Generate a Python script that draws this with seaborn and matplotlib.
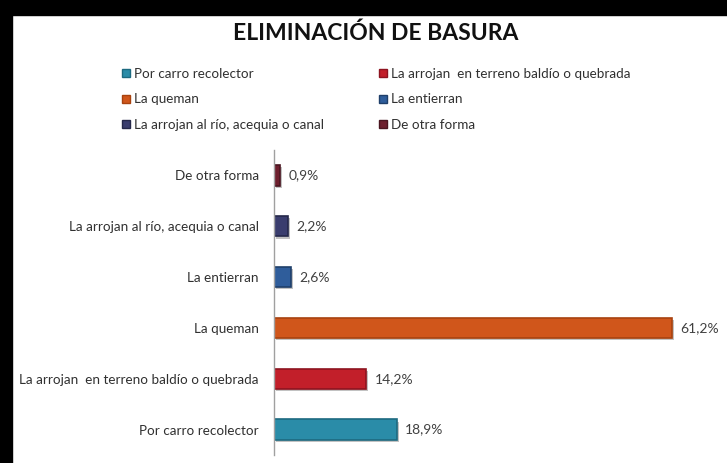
import matplotlib
matplotlib.use("Agg")
import matplotlib.pyplot as plt
import matplotlib.patheffects as pe
from matplotlib.patches import Rectangle
from matplotlib.lines import Line2D
import seaborn as sns
import pandas as pd

categories = ["De otra forma", "La arrojan al río, acequia o canal", "La entierran",
              "La queman", "La arrojan  en terreno baldío o quebrada", "Por carro recolector"]
values = [0.9, 2.2, 2.6, 61.2, 14.2, 18.9]
labels = ["0,9%", "2,2%", "2,6%", "61,2%", "14,2%", "18,9%"]
colors = ["#6E1F2E", "#3A3D6E", "#2F5D9B", "#D0561B", "#C21F2A", "#2A8CA8"]
edge_colors = ["#4A1520", "#25284A", "#1F3F6A", "#A8420F", "#8E1420", "#1D6A80"]
legend_order = [5, 3, 1, 4, 2, 0]

sns.set_theme(style="white")
plt.rcParams["font.family"] = ["Lato", "DejaVu Sans"]

df = pd.DataFrame({"cat": categories, "val": values})

fig = plt.figure(figsize=(7.27, 4.63), dpi=100)
ax = fig.add_axes([274 / 727, 8 / 463, 426 / 727, 305 / 463])

sns.barplot(data=df, y="cat", x="val", hue="cat", palette=colors, order=categories,
            hue_order=categories, width=0.4, legend=False, ax=ax, orient="h",
            saturation=1)

for p, ec in zip(ax.patches, edge_colors):
    p.set_edgecolor(ec)
    p.set_linewidth(1.2)
    p.set_path_effects([pe.SimplePatchShadow(offset=(1.5, -1.5), shadow_rgbFace="#9a9a9a", alpha=0.6),
                        pe.Normal()])

for i, (v, lab) in enumerate(zip(values, labels)):
    ax.text(v + 1.3, i, lab, va="center", ha="left", fontsize=10, color="#404040")

ax.set_xlim(0, 426 / 6.5)
ax.set_ylim(5.5, -0.5)
ax.set_xlabel("")
ax.set_ylabel("")
ax.set_xticks([])
ax.tick_params(axis="y", length=0, labelsize=9.7, labelcolor="#303030", pad=11)
for s in ["top", "right", "bottom"]:
    ax.spines[s].set_visible(False)
ax.spines["left"].set_color("#a0a0a0")
ax.spines["left"].set_linewidth(1.0)

fig.text(0.517, 1 - 33 / 463, "ELIMINACIÓN DE BASURA", ha="center", va="center",
         fontsize=16.5, fontweight="bold", color="#111111")

handles = [Line2D([0], [0], marker="s", linestyle="", markersize=6,
                  markerfacecolor=colors[i], markeredgecolor=edge_colors[i]) for i in legend_order]
leg_labels = [categories[i] for i in legend_order]
fig.legend(handles, leg_labels, ncol=2, loc="upper left",
           bbox_to_anchor=(107 / 727, 1 - 56 / 463), frameon=False, fontsize=9.7,
           handletextpad=0.1, columnspacing=3.9, labelspacing=0.98, handlelength=1.0,
           labelcolor="#303030")

fig.patches.append(Rectangle((0, 1 - 15 / 463), 1, 15 / 463, transform=fig.transFigure,
                             color="black", zorder=10))
fig.patches.append(Rectangle((0, 0), 12 / 727, 1, transform=fig.transFigure,
                             color="black", zorder=10))

fig.savefig("out.png", dpi=100)
